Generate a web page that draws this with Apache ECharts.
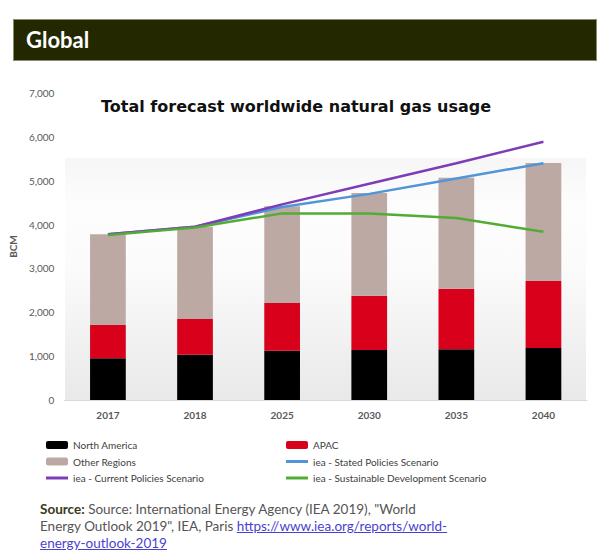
<!DOCTYPE html>
<html>
<head>
<meta charset="utf-8">
<script src="https://cdn.jsdelivr.net/npm/echarts@6/dist/echarts.min.js"></script>
<style>
  html, body { margin: 0; padding: 0; background: #fff; }
  #wrap { position: relative; width: 605px; height: 559px; overflow: hidden; }
  #chart { position: absolute; left: 0; top: 0; width: 605px; height: 559px; }
  #header { position: absolute; left: 13px; top: 19px; width: 584px; height: 42px; background: #242800; border: 1px solid #8a8a70; box-sizing: border-box; }
  #header span { position: absolute; left: 12px; top: 6px; font-family: Lato, sans-serif; font-weight: bold; font-size: 22px; color: #fff; }
  #source { position: absolute; left: 40px; top: 501px; font-family: Lato, sans-serif; font-size: 13.5px; line-height: 17px; color: #555; }
  #source b { color: #3a3a1a; }
  #source a { color: #4a3fd0; text-decoration: underline; }
</style>
</head>
<body>
<div id="wrap">
  <div id="chart"></div>
  <div id="header"><span>Global</span></div>
  <div id="source"><b>Source:</b> Source: International Energy Agency (IEA 2019), "World<br>Energy Outlook 2019", IEA, Paris <a>https://www.iea.org/reports/world-</a><br><a>energy-outlook-2019</a></div>
</div>
<script>
const categories = ['2017', '2018', '2025', '2030', '2035', '2040'];
const northAmerica = [950, 1030, 1125, 1140, 1155, 1185];
const apac = [760, 815, 1085, 1236, 1380, 1526];
const otherRegions = [2070, 2105, 2210, 2344, 2530, 2694];
const statedPolicies = [3780, 3950, 4400, 4700, 5050, 5400];
const currentPolicies = [3780, 3950, 4460, 4930, 5400, 5890];
const sustainableDev = [3760, 3935, 4255, 4255, 4150, 3835];
const yTicks = [0, 1000, 2000, 3000, 4000, 5000, 6000, 7000];

const chart = echarts.init(document.getElementById('chart'), null, { renderer: 'svg' });
const labelColor = '#595959';
const legendText = { fontFamily: 'Lato, sans-serif', fontSize: 10, color: '#404040', lineHeight: 12 };
const lineIcon = 'path://M0,0 L22,0 L22,3 L0,3 Z';

chart.setOption({
  animation: false,
  title: {
    text: 'Total forecast worldwide natural gas usage',
    left: 96, top: 93,
    textStyle: { fontFamily: '"DejaVu Sans", sans-serif', fontWeight: 'bold', fontSize: 16, color: '#111' }
  },
  graphic: [{
    type: 'rect', z: -10, silent: true,
    shape: { x: 65, y: 158, width: 521, height: 242 },
    style: {
      fill: new echarts.graphic.LinearGradient(0, 0, 0, 1, [
        { offset: 0, color: '#f6f6f6' },
        { offset: 0.2, color: '#fdfdfd' },
        { offset: 0.45, color: '#fbfbfb' },
        { offset: 1, color: '#e9e9e9' }
      ])
    }
  }],
  legend: [{
    orient: 'vertical', left: 41, top: 434,
    itemWidth: 22, itemHeight: 8, itemGap: 4.5,
    textStyle: legendText,
    data: ['North America', 'Other Regions', { name: 'iea - Current Policies Scenario', icon: lineIcon }]
  }, {
    orient: 'vertical', left: 281, top: 434,
    itemWidth: 22, itemHeight: 8, itemGap: 4.5,
    textStyle: legendText,
    data: ['APAC', { name: 'iea - Stated Policies Scenario', icon: lineIcon }, { name: 'iea - Sustainable Development Scenario', icon: lineIcon }]
  }],
  grid: { left: 64, right: 18, top: 93, bottom: 159, containLabel: false },
  xAxis: {
    type: 'category', data: categories,
    axisLine: { lineStyle: { color: '#d9d9d9', width: 1 } },
    axisTick: { show: false },
    axisLabel: { color: labelColor, fontFamily: 'Lato, sans-serif', fontSize: 10, fontWeight: 'bold', margin: 10 }
  },
  yAxis: {
    type: 'value', min: yTicks[0], max: yTicks[yTicks.length - 1], interval: 1000,
    name: 'BCM', nameLocation: 'middle', nameGap: 45, nameRotate: 90,
    nameTextStyle: { color: labelColor, fontFamily: 'Lato, sans-serif', fontSize: 10, fontWeight: 'bold' },
    splitLine: { show: false }, axisLine: { show: false }, axisTick: { show: false },
    axisLabel: { color: labelColor, fontFamily: 'Lato, sans-serif', fontSize: 10, margin: 10,
      formatter: v => v.toLocaleString('en-US') }
  },
  series: [
    { name: 'North America', type: 'bar', stack: 't', data: northAmerica, barWidth: '41%', itemStyle: { color: '#000000' } },
    { name: 'APAC', type: 'bar', stack: 't', data: apac, itemStyle: { color: '#d8001a' } },
    { name: 'Other Regions', type: 'bar', stack: 't', data: otherRegions, itemStyle: { color: '#bda9a4' } },
    { name: 'iea - Stated Policies Scenario', type: 'line', data: statedPolicies, symbol: 'none', lineStyle: { color: '#4f95d8', width: 2.5 }, itemStyle: { color: '#4f95d8' } },
    { name: 'iea - Current Policies Scenario', type: 'line', data: currentPolicies, symbol: 'none', lineStyle: { color: '#7d3db8', width: 2.5 }, itemStyle: { color: '#7d3db8' } },
    { name: 'iea - Sustainable Development Scenario', type: 'line', data: sustainableDev, symbol: 'none', lineStyle: { color: '#52ac34', width: 2.5 }, itemStyle: { color: '#52ac34' } }
  ]
});
</script>
</body>
</html>
